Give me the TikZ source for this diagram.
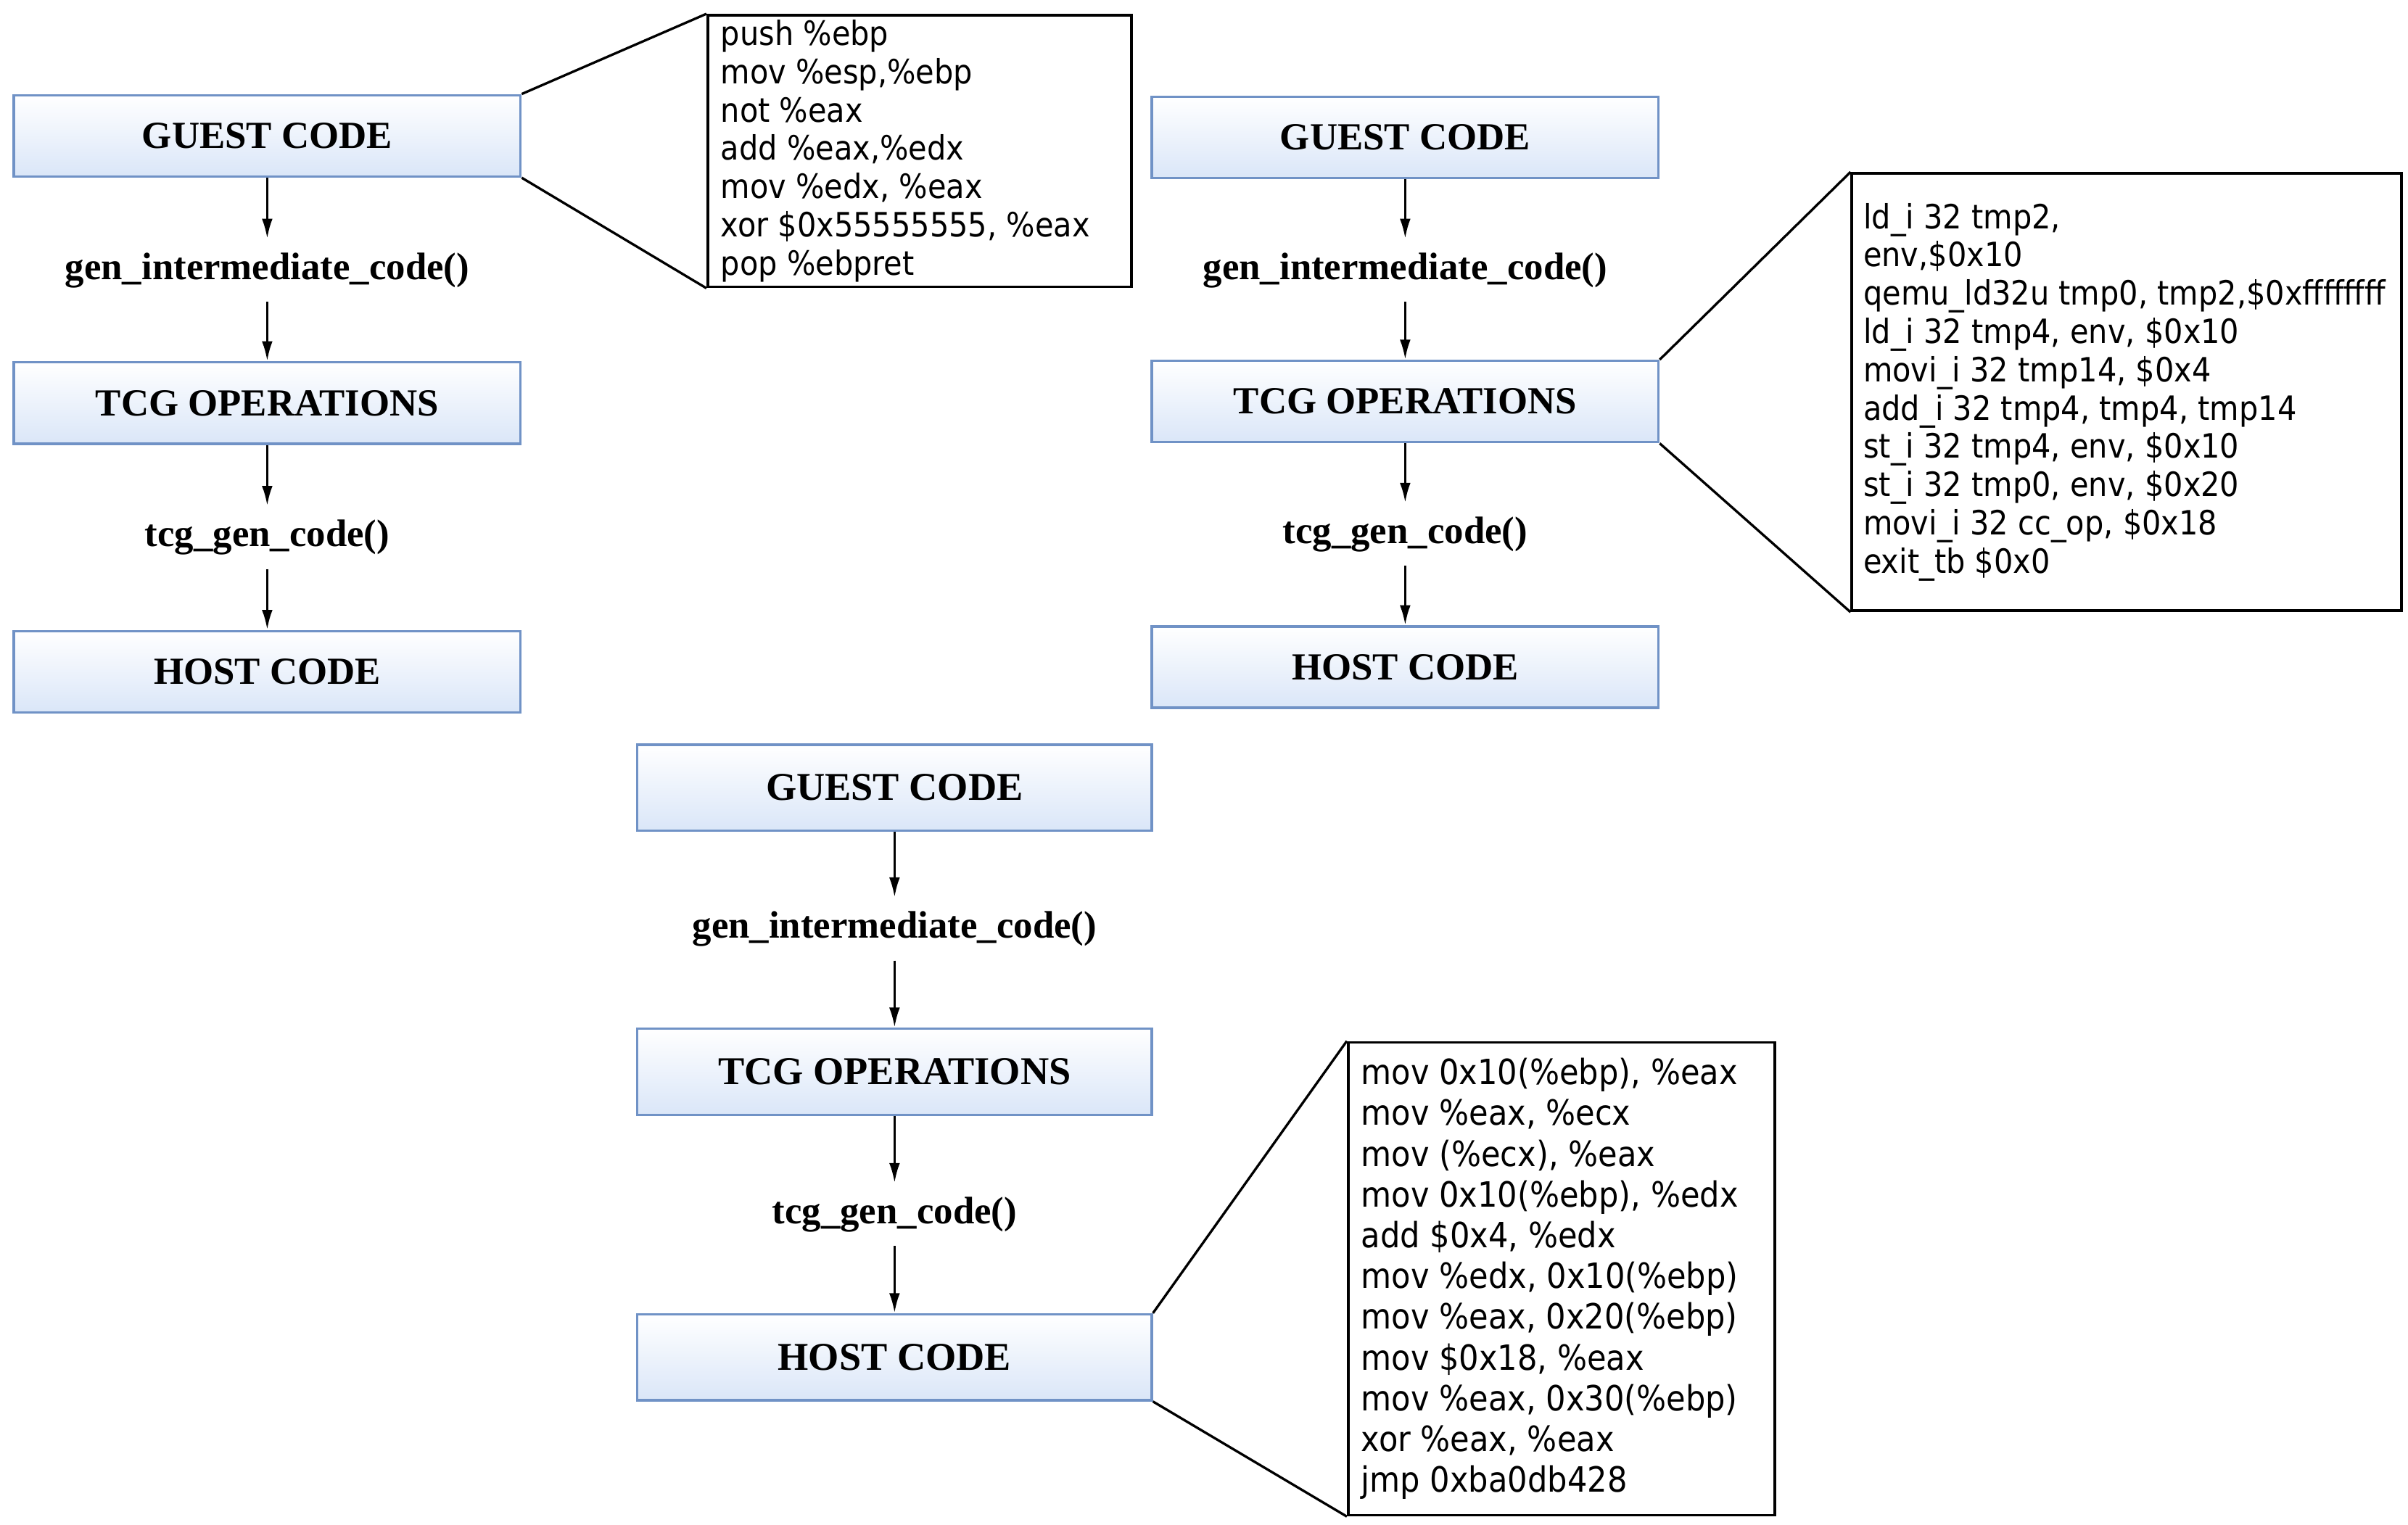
\documentclass[tikz,border=0pt]{standalone}
\usepackage{fontspec}
\setmainfont{Liberation Serif}
\newfontfamily\codefont[FakeStretch=0.9]{DejaVu Sans}
\usetikzlibrary{arrows.meta, positioning}
\definecolor{stageline}{RGB}{112,146,198}
\definecolor{stagefill}{RGB}{218,230,248}

\begin{document}
\begin{tikzpicture}[
        x=0.02cm, y=-0.02cm, % one unit = one pixel of the sketch
        stage/.style={draw=stageline, line width=0.9pt, top color=white, bottom color=stagefill,
            minimum width=6.6cm, minimum height=1.06cm, font=\bfseries\fontsize{14.2}{17}\selectfont},
        bigstage/.style={stage, minimum width=6.7cm, minimum height=1.12cm, font=\bfseries\fontsize{14.6}{17}\selectfont},
        call/.style={inner sep=5pt, font=\bfseries\fontsize{14.2}{17}\selectfont},
        frame/.style={draw, line width=1pt, anchor=north west, inner sep=0pt},
        listing/.style={anchor=west, align=left, inner sep=0pt, font=\codefont\fontsize{12.4}{14.2}\selectfont},
        flow/.style={-{Latex[length=2.6mm,width=1.4mm]}, line width=0.9pt},
        zoomline/.style={line width=0.9pt},
    ]
    \useasboundingbox (0,0) rectangle (1568,993);

    % left column
    \node[stage] (guestA) at (174,88.5)  {GUEST CODE};
    \node[call]  (genA)   at (174,176)   {gen\_intermediate\_code()};
    \node[stage] (tcgA)   at (174,262.5) {TCG OPERATIONS};
    \node[call]  (tgenA)  at (174,350)   {tcg\_gen\_code()};
    \node[stage] (hostA)  at (174,437.5) {HOST CODE};
    \draw[flow] (guestA) -- (genA);
    \draw[flow] (genA) -- (tcgA);
    \draw[flow] (tcgA) -- (tgenA);
    \draw[flow] (tgenA) -- (hostA);

    \node[frame, minimum width=5.52cm, minimum height=3.54cm] (codeA) at (460,9) {};
    \node[listing, right=0.18cm of codeA.west] (textA) {push \%ebp\\
        mov \%esp,\%ebp\\
        not \%eax\\
        add \%eax,\%edx\\
        mov \%edx, \%eax\\
        xor \$0x55555555, \%eax\\
        pop \%ebpret};
    \draw[zoomline] (guestA.north east) -- (codeA.north west);
    \draw[zoomline] (guestA.south east) -- (codeA.south west);

    % right column
    \node[stage] (guestB) at (915,89.5)  {GUEST CODE};
    \node[call]  (genB)   at (915,176)   {gen\_intermediate\_code()};
    \node[stage] (tcgB)   at (915,261.5) {TCG OPERATIONS};
    \node[call]  (tgenB)  at (915,348)   {tcg\_gen\_code()};
    \node[stage] (hostB)  at (915,434.5) {HOST CODE};
    \draw[flow] (guestB) -- (genB);
    \draw[flow] (genB) -- (tcgB);
    \draw[flow] (tcgB) -- (tgenB);
    \draw[flow] (tgenB) -- (hostB);

    \node[frame, minimum width=7.16cm, minimum height=5.7cm] (codeB) at (1205,112) {};
    \node[listing, right=0.16cm of codeB.west] (textB) {ld\_i 32 tmp2,\\
        env,\$0x10\\
        qemu\_ld32u tmp0, tmp2,\$0xffffffff\\
        ld\_i 32 tmp4, env, \$0x10\\
        movi\_i 32 tmp14, \$0x4\\
        add\_i 32 tmp4, tmp4, tmp14\\
        st\_i 32 tmp4, env, \$0x10\\
        st\_i 32 tmp0, env, \$0x20\\
        movi\_i 32 cc\_op, \$0x18\\
        exit\_tb \$0x0};
    \draw[zoomline] (tcgB.north east) -- (codeB.north west);
    \draw[zoomline] (tcgB.south east) -- (codeB.south west);

    % bottom column
    \node[bigstage] (guestC) at (582.5,513) {GUEST CODE};
    \node[call]     (genC)   at (582.5,605) {gen\_intermediate\_code()};
    \node[bigstage] (tcgC)   at (582.5,698) {TCG OPERATIONS};
    \node[call]     (tgenC)  at (582.5,791) {tcg\_gen\_code()};
    \node[bigstage] (hostC)  at (582.5,884) {HOST CODE};
    \draw[flow] (guestC) -- (genC);
    \draw[flow] (genC) -- (tcgC);
    \draw[flow] (tcgC) -- (tgenC);
    \draw[flow] (tgenC) -- (hostC);

    \node[frame, minimum width=5.56cm, minimum height=6.16cm] (codeC) at (877,678) {};
    \node[listing, right=0.18cm of codeC.west, font=\codefont\fontsize{12.9}{15.1}\selectfont] (textC) {mov 0x10(\%ebp), \%eax\\
        mov \%eax, \%ecx\\
        mov (\%ecx), \%eax\\
        mov 0x10(\%ebp), \%edx\\
        add \$0x4, \%edx\\
        mov \%edx, 0x10(\%ebp)\\
        mov \%eax, 0x20(\%ebp)\\
        mov \$0x18, \%eax\\
        mov \%eax, 0x30(\%ebp)\\
        xor \%eax, \%eax\\
        jmp 0xba0db428};
    \draw[zoomline] (hostC.north east) -- (codeC.north west);
    \draw[zoomline] (hostC.south east) -- (codeC.south west);
\end{tikzpicture}
\end{document}
